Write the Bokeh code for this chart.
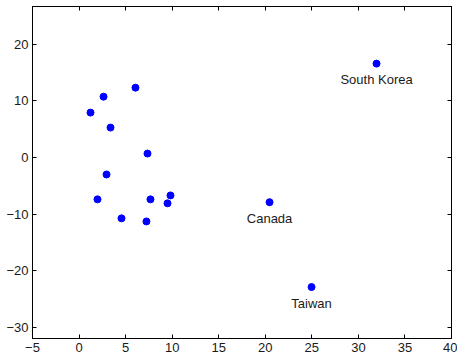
from bokeh.plotting import figure
from bokeh.models import ColumnDataSource, LinearAxis, FixedTicker, Range1d, CustomJSTickFormatter
from bokeh.embed import file_html
from bokeh.resources import INLINE
from bokeh.core.properties import value

x_vals = [6.06, 2.63, 1.23, 3.38, 7.35, 2.95, 1.98, 4.56, 7.24, 7.67, 9.82, 9.5, 20.46, 24.97, 31.95]
y_vals = [12.35, 10.76, 7.94, 5.29, 0.7, -3.0, -7.4, -10.76, -11.3, -7.4, -6.7, -8.1, -7.9, -22.9, 16.6]
labels = ["", "", "", "", "", "", "", "", "", "", "", "", "Canada", "Taiwan", "South Korea"]

x_ticks = [-5, 0, 5, 10, 15, 20, 25, 30, 35, 40]
y_ticks = [-30, -20, -10, 0, 10, 20]

src = ColumnDataSource(dict(x=x_vals, y=y_vals, label=labels))

p = figure(frame_width=419, frame_height=332, output_backend="svg", toolbar_location=None,
           x_range=Range1d(-5, 40), y_range=Range1d(-32, 26.7),
           min_border_left=32, min_border_right=6, min_border_top=6, min_border_bottom=0,
           x_axis_location=None, y_axis_location=None)
p.grid.visible = False
p.outline_line_color = "black"
p.outline_line_width = 1
p.background_fill_color = "white"
p.border_fill_color = "white"

font = "Liberation Sans"

def style_axis(ax, ticks, show_labels):
    ax.ticker = FixedTicker(ticks=ticks)
    ax.minor_tick_line_color = None
    ax.major_tick_in = 4
    ax.major_tick_out = 0
    ax.axis_line_color = "black"
    ax.axis_line_width = 1
    ax.major_tick_line_color = "black"
    ax.major_tick_line_width = 1
    ax.major_label_text_font = font
    if show_labels:
        ax.major_label_text_color = "#1a1a1a"
        ax.major_label_text_font_size = "13px"
        ax.major_label_standoff = 4
    else:
        ax.formatter = CustomJSTickFormatter(code="return '';")
        ax.major_label_text_color = None
        ax.major_label_text_font_size = "1px"
        ax.major_label_standoff = 0

bottom = LinearAxis()
style_axis(bottom, x_ticks, True)
left = LinearAxis()
style_axis(left, y_ticks, True)
top = LinearAxis()
style_axis(top, x_ticks, False)
right = LinearAxis()
style_axis(right, y_ticks, False)
p.add_layout(bottom, "below")
p.add_layout(left, "left")
p.add_layout(top, "above")
p.add_layout(right, "right")

p.scatter("x", "y", source=src, size=7, fill_color="#0000ff", line_color="#0000ff")
p.text("x", "y", text="label", source=src, text_align="center", text_baseline="middle",
       y_offset=16, text_font=value(font), text_font_size="13px", text_color="#1a1a1a")

open("out.html", "w").write(file_html(p, INLINE))
